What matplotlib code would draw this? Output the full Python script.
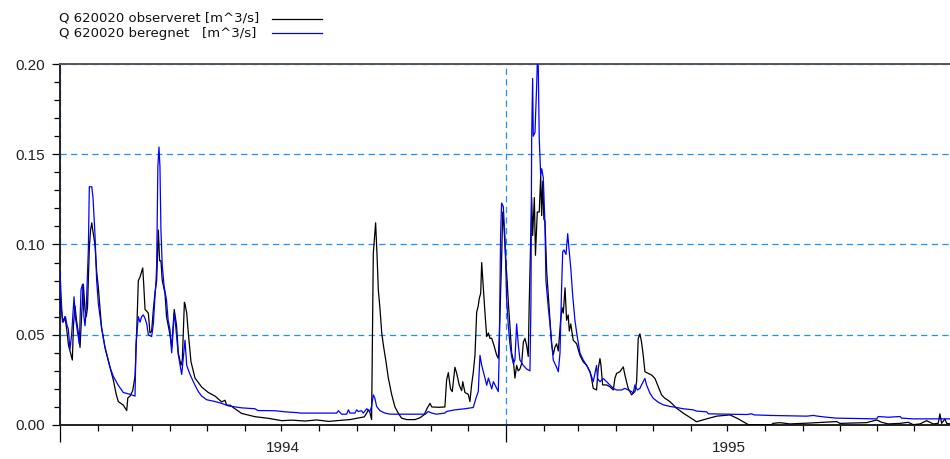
import pandas as pd
import matplotlib
matplotlib.use("Agg")
import matplotlib.pyplot as plt
import matplotlib.dates as mdates
from matplotlib.lines import Line2D
from matplotlib.ticker import MultipleLocator, FormatStrFormatter, NullFormatter

# Observed discharge: day since 1994-01-01, value [m^3/s]
obs_day = [0, 1, 2.5, 4, 5.5, 7, 8.2, 10.1, 11, 12.3, 13.5, 14.8, 16.4, 17.5, 19.1, 20.5, 21.5, 22.5,
           23.2, 24, 25, 26, 27, 28.6, 30, 31.4, 34, 36.8, 40.9, 43.6, 46, 47.7, 51.8, 54.6, 55.5,
           57.3, 59.5, 61.4, 62.7, 64.1, 65.5, 67.7, 68.5, 69.6, 71, 72.3, 73.6, 75, 76.4, 77.7,
           79.1, 80.5, 81.5, 82.6, 83.7, 85.9, 87.2, 90, 91.4, 93.5, 95.4, 96.8, 99, 100.1, 101.8,
           102.3, 103.7, 105, 107.2, 110.5, 116, 121.4, 126.9, 132.3, 135, 136.4, 139.1, 143.2,
           148.7, 159.6, 170.5, 181.5, 189.6, 200.5, 210, 220, 226.4, 237.3, 245, 249, 251, 252.3,
           253.6, 255, 256.4, 258.3, 259.4, 260.5, 261.9, 263.3, 264.7, 266.8, 268.7, 271.4, 274.1,
           276.8, 279.5, 283.7, 290.5, 294.6, 298, 300.5, 302.8, 304.2, 310, 315, 316.4, 317.8,
           319.6, 321, 323.2, 324.5, 326.8, 328.7, 329.6, 331.4, 334.1, 335.5, 336.8, 338.2, 339.6,
           341, 342.3, 343.1, 344.3, 345.1, 346.5, 347.8, 349.2, 350.6, 351.9, 353.3, 355.2, 357.4,
           358.7, 359.5, 360.6, 361.4, 362.3, 363.3, 364.2, 365.1, 366, 366.9, 368.2, 369.6, 371,
           372.3, 373.7, 375, 376.4, 377.8, 379.2, 380.5, 381.9, 383.2, 384, 385.1, 386, 386.8,
           388.2, 389.1, 390.6, 392.2, 393.4, 394.2, 395.1, 396, 396.9, 398.3, 399.6, 401, 402.3,
           403.7, 405, 406.4, 407.8, 409.7, 410.9, 411.9, 413.3, 414.6, 415.9, 416.8, 418, 420,
           422.8, 425.5, 428.2, 431, 433.7, 435, 436.4, 439.1, 440.5, 441.9, 442.7, 444.1, 447.3,
           450, 452.8, 454.1, 455.5, 458.2, 461, 462.3, 465, 467.8, 470.5, 471.9, 473.2, 474.6,
           475.9, 477.3, 478.7, 481.4, 484.1, 486.9, 489.6, 492.3, 495, 499.1, 504.6, 510, 515.5,
           521, 529.2, 537.4, 548.3, 555.1, 563.3, 582.4, 583.5, 589.2, 597.4, 613.8, 635.6, 638.3,
           660.1, 668.3, 672.4, 677.8, 687.4, 694.2, 698.3, 703.8, 709.2, 714.6, 718.7, 720.1,
           721.5, 724.2, 725.6, 729]
obs_val = [0.070, 0.064, 0.057, 0.060, 0.053, 0.044, 0.041, 0.036, 0.055, 0.066, 0.058, 0.052, 0.043,
           0.058, 0.078, 0.064, 0.060, 0.065, 0.080, 0.098, 0.108, 0.112, 0.107, 0.100, 0.085, 0.076,
           0.054, 0.043, 0.032, 0.025, 0.017, 0.013, 0.011, 0.008, 0.015, 0.016, 0.019, 0.027, 0.050,
           0.080, 0.082, 0.087, 0.078, 0.064, 0.063, 0.062, 0.051, 0.052, 0.064, 0.073, 0.080, 0.108,
           0.091, 0.091, 0.080, 0.073, 0.060, 0.050, 0.043, 0.064, 0.055, 0.040, 0.033, 0.036, 0.068,
           0.067, 0.062, 0.051, 0.035, 0.026, 0.021, 0.018, 0.016, 0.0128, 0.0137, 0.011, 0.011,
           0.009, 0.0064, 0.0046, 0.0037, 0.0024, 0.0027, 0.0022, 0.0028, 0.002, 0.0024, 0.003,
           0.004, 0.0045, 0.0066, 0.0084, 0.007, 0.003, 0.095, 0.112, 0.095, 0.075, 0.064, 0.051,
           0.044, 0.035, 0.026, 0.017, 0.010, 0.0066, 0.0038, 0.003, 0.003, 0.004, 0.0057, 0.0093,
           0.012, 0.010, 0.0098, 0.010, 0.025, 0.029, 0.020, 0.0185, 0.032, 0.029, 0.022, 0.019,
           0.024, 0.018, 0.017, 0.013, 0.022, 0.029, 0.0386, 0.0625, 0.066, 0.070, 0.073, 0.090,
           0.075, 0.062, 0.049, 0.051, 0.048, 0.048, 0.044, 0.0386, 0.037, 0.048, 0.073, 0.092,
           0.118, 0.110, 0.099, 0.088, 0.079, 0.068, 0.055, 0.040, 0.036, 0.026, 0.033, 0.030, 0.031,
           0.034, 0.046, 0.048, 0.044, 0.038, 0.067, 0.100, 0.126, 0.105, 0.126, 0.094, 0.118,
           0.118, 0.138, 0.116, 0.135, 0.114, 0.113, 0.085, 0.072, 0.058, 0.045, 0.039, 0.043,
           0.045, 0.041, 0.058, 0.065, 0.062, 0.076, 0.058, 0.061, 0.052, 0.056, 0.047, 0.045,
           0.0386, 0.035, 0.0331, 0.0295, 0.0258, 0.0203, 0.0194, 0.0313, 0.0368, 0.0331, 0.0222,
           0.0222, 0.0212, 0.0194, 0.0258, 0.0286, 0.0295, 0.0322, 0.0277, 0.0203, 0.0167, 0.0185,
           0.024, 0.0478, 0.0505, 0.046, 0.0386, 0.0295, 0.0286, 0.0277, 0.0258, 0.0212, 0.0167,
           0.0148, 0.013, 0.0093, 0.0066, 0.0042, 0.0018, 0.0034, 0.0049, 0.0056, 0.0034, 0.0002,
           0.0002, 0.0009, 0.0013, 0.0006, 0.0011, 0.0019, 0.0009, 0.0013, 0.0028, 0.0015, 0.0006,
           0.0009, 0.0015, 0.0002, 0.0006, 0.0024, 0.0006, 0.0009, 0.0062, 0.0009, 0.0034, 0.0009,
           0.0006]

# Simulated discharge
sim_day = [0, 1, 2, 3.5, 4.5, 5.5, 6.8, 8.2, 9.5, 11.5, 12.5, 14, 15.8, 17.2, 18.5, 19.6, 20.5, 21.5,
           23.2, 24, 26, 27, 28.6, 30, 31.4, 34, 36.8, 40.9, 43.6, 47.7, 51.8, 57.3, 61.4, 62.2,
           64.1, 65.5, 66.8, 68.2, 69.6, 71, 72.3, 75, 76.4, 77.7, 78.5, 79.1, 80.1, 81, 81.8, 82.6,
           83.7, 85.2, 87.2, 88.5, 90, 91.4, 93.5, 94.1, 96.8, 99.6, 102.3, 103.7, 106.4, 110.5,
           113.2, 116, 120, 126.9, 132.3, 137.7, 148.7, 159.6, 162, 176, 184.1, 195, 196.4, 226.4,
           227.8, 230.5, 234.6, 236, 237.3, 241.4, 242.8, 244.1, 246.8, 248.2, 251, 253.6, 255,
           256.4, 257.7, 259.1, 261.9, 265.9, 270, 299, 301.4, 304.2, 308, 315, 316.4, 323.2, 331.4,
           338.2, 340.4, 342.3, 343.7, 345.1, 347.8, 349.2, 350.6, 353.3, 354.7, 357.4, 358.7,
           359.5, 360.6, 361.4, 362.8, 364.2, 365.5, 366.9, 368.2, 369.6, 371, 372.3, 373.7, 375,
           376.4, 379.2, 381.9, 384.6, 385.4, 386, 386.8, 387.3, 388.7, 390.1, 390.6, 391.4, 392.2,
           393.4, 394.2, 395.5, 396.9, 397.7, 399.6, 401, 402.4, 403.7, 405, 406.4, 407.8, 409.2,
           410.5, 411.4, 412.4, 414.1, 415.5, 416.5, 418, 419.5, 421.4, 423.3, 425.5, 428.2, 431,
           433.7, 436.4, 439.1, 439.9, 441.9, 444.6, 447.3, 450, 452.8, 455.5, 459.6, 462.3, 465,
           467.8, 469.1, 470.5, 472.4, 474.6, 475.9, 478.7, 480, 482.8, 485.5, 489.6, 493.7, 499.1,
           504.6, 510, 518.2, 521, 529.2, 530.6, 562, 566.1, 568, 581.1, 611.1, 616.6, 620, 627.5,
           635.6, 668.3, 669.7, 677.8, 687.4, 688.8, 698.3, 729]
sim_val = [0.084, 0.070, 0.057, 0.058, 0.060, 0.056, 0.053, 0.042, 0.050, 0.071, 0.060, 0.053, 0.045,
           0.075, 0.078, 0.060, 0.055, 0.065, 0.097, 0.132, 0.132, 0.126, 0.106, 0.080, 0.067, 0.054,
           0.043, 0.032, 0.027, 0.022, 0.018, 0.017, 0.016, 0.045, 0.060, 0.057, 0.060, 0.061, 0.059,
           0.056, 0.050, 0.049, 0.056, 0.071, 0.079, 0.088, 0.143, 0.154, 0.143, 0.108, 0.088, 0.077,
           0.069, 0.058, 0.053, 0.040, 0.062, 0.059, 0.039, 0.028, 0.047, 0.033, 0.028, 0.022,
           0.0185, 0.016, 0.014, 0.013, 0.012, 0.0106, 0.0095, 0.009, 0.008, 0.0079, 0.0073, 0.0068,
           0.0066, 0.0066, 0.0079, 0.006, 0.006, 0.0084, 0.0066, 0.0066, 0.0084, 0.0075, 0.0079,
           0.0066, 0.009, 0.0075, 0.0103, 0.0167, 0.0148, 0.0103, 0.0079, 0.0066, 0.006, 0.006,
           0.0075, 0.0066, 0.006, 0.0066, 0.0075, 0.0084, 0.009, 0.0097, 0.0148, 0.0185, 0.0386,
           0.0331, 0.026, 0.022, 0.026, 0.020, 0.024, 0.0203, 0.0185, 0.042, 0.106, 0.123, 0.121,
           0.103, 0.070, 0.055, 0.045, 0.038, 0.034, 0.036, 0.056, 0.045, 0.036, 0.033, 0.031, 0.030,
           0.067, 0.159, 0.192, 0.160, 0.162, 0.188, 0.200, 0.199, 0.159, 0.138, 0.142, 0.137, 0.111,
           0.080, 0.065, 0.056, 0.045, 0.036, 0.034, 0.032, 0.0295, 0.040, 0.076, 0.096, 0.097,
           0.0945, 0.106, 0.098, 0.087, 0.0725, 0.058, 0.049, 0.040, 0.036, 0.033, 0.0295, 0.024,
           0.033, 0.0258, 0.024, 0.0258, 0.024, 0.0222, 0.0203, 0.0194, 0.0194, 0.0203, 0.0194,
           0.0185, 0.0176, 0.0222, 0.0194, 0.0203, 0.0222, 0.0258, 0.0222, 0.0176, 0.0148, 0.0126,
           0.0112, 0.0103, 0.0097, 0.009, 0.0084, 0.0077, 0.0073, 0.0062, 0.0058, 0.0062, 0.0056,
           0.0053, 0.0049, 0.0053, 0.0049, 0.0043, 0.0038, 0.0034, 0.0047, 0.0043, 0.0047, 0.0038,
           0.0034, 0.0034]

labels = ["Q 620020 observeret [m^3/s]", "Q 620020 beregnet   [m^3/s]"]
year_labels = ["1994", "1995"]

start = pd.Timestamp("1994-01-01")
obs_t = start + pd.to_timedelta(obs_day, unit="D")
sim_t = start + pd.to_timedelta(sim_day, unit="D")

W, H = 950, 459
fig = plt.figure(figsize=(W / 100, H / 100), dpi=100)
ax = fig.add_axes([60 / W, 1 - 425 / H, 892 / W, 361 / H])

grid_blue = "#1e8fff"
ax.plot(obs_t, obs_val, color="black", lw=0.9, zorder=3)
ax.plot(sim_t, sim_val, color="#0000ff", lw=0.9, zorder=4)

ax.set_xlim(pd.Timestamp("1994-01-01"), pd.Timestamp("1996-01-01"))
ax.set_ylim(0, 0.20)

# y axis
ax.yaxis.set_major_locator(MultipleLocator(0.05))
ax.yaxis.set_minor_locator(MultipleLocator(0.01))
ax.yaxis.set_major_formatter(FormatStrFormatter("%.2f"))
ax.tick_params(axis="y", which="major", length=6, width=0.9, pad=5,
               labelsize=11, labelcolor="#222222")
ax.tick_params(axis="y", which="minor", length=4.5, width=0.9)

# x axis: year boundaries long ticks, months short ticks
ax.xaxis.set_major_locator(mdates.YearLocator())
ax.xaxis.set_minor_locator(mdates.MonthLocator())
ax.xaxis.set_major_formatter(NullFormatter())
ax.tick_params(axis="x", which="major", length=12.5, width=0.9)
ax.tick_params(axis="x", which="minor", length=4, width=0.9)
for i, yl in enumerate(year_labels):
    mid = pd.Timestamp(f"{yl}-07-02")
    ax.text(mid, -0.064, yl, transform=ax.get_xaxis_transform(),
            ha="center", va="center", fontsize=11, color="#222222",
            family="Liberation Sans")

for lab in ax.get_yticklabels():
    lab.set_family("Liberation Sans")

ax.grid(axis="y", which="major", color=grid_blue, lw=0.9, linestyle=(0, (5, 3.5)))
ax.grid(axis="x", which="major", color=grid_blue, lw=0.9, linestyle=(0, (5, 3.5)))
ax.set_axisbelow(True)

ax.spines["right"].set_visible(False)
ax.spines["top"].set_color("#555555")
ax.spines["left"].set_color("#222222")
ax.spines["bottom"].set_color("#222222")
for s in ["top", "left", "bottom"]:
    ax.spines[s].set_linewidth(1.4)

# legend drawn at top left
rows = [(18, 19, "black"), (34, 33, "#0000ff")]
for (ty, ly, col), lab in zip(rows, labels):
    fig.text(59 / W, 1 - ty / H, lab, fontsize=9.5, va="center", ha="left",
             family="DejaVu Sans", color="#111111")
    fig.add_artist(Line2D([272 / W, 322 / W], [1 - ly / H, 1 - ly / H],
                          transform=fig.transFigure, color=col, lw=0.9))

fig.savefig("out.png", dpi=100)
